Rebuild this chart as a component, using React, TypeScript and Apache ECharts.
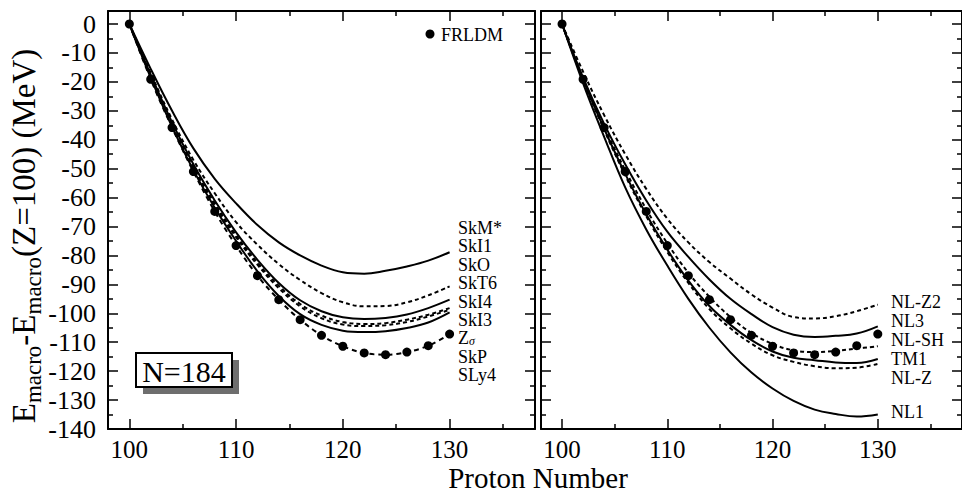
import React, { useEffect, useRef } from 'react';
import * as echarts from 'echarts';

// ---------- data ----------
const protonNumbers = [100, 102, 104, 106, 108, 110, 112, 114, 116, 118, 120, 122, 124, 126, 128, 130];

const frldm = [0, -19.1, -35.8, -51.0, -64.8, -76.6, -87.0, -95.3, -102.2, -107.6, -111.4, -113.7, -114.3, -113.4, -111.2, -107.2];

// left panel (Skyrme)
const skmStar = [0, -15.5, -30.0, -43.0, -53.5, -62.0, -69.5, -75.5, -80.0, -83.5, -85.8, -86.3, -85.3, -83.8, -81.8, -78.9];
const skI1 = [0, -17.0, -33.0, -47.0, -58.5, -68.5, -76.3, -83.0, -88.5, -93.0, -96.2, -97.6, -97.5, -96.2, -93.8, -90.7];
const skO = [0, -17.5, -34.0, -48.5, -61.0, -72.0, -81.5, -89.5, -95.5, -99.3, -101.4, -102.0, -101.6, -100.4, -98.2, -95.3];
const skT6 = [0, -17.8, -34.5, -49.3, -62.0, -73.0, -82.5, -90.5, -96.8, -100.8, -103.0, -103.7, -103.4, -102.2, -100.5, -98.2];
const skI4 = [0, -18.0, -35.0, -49.8, -62.6, -73.7, -83.2, -91.3, -97.6, -101.7, -103.9, -104.4, -104.1, -103.0, -101.1, -98.8];
const skI3 = [0, -18.5, -35.5, -50.5, -63.5, -75.0, -85.5, -94.0, -100.3, -104.0, -106.0, -106.5, -106.2, -105.1, -103.2, -99.7];

// right panel (RMF)
const nlZ2 = [0, -16.5, -31.5, -45.0, -57.0, -67.3, -75.5, -82.3, -88.0, -93.5, -98.0, -101.3, -101.8, -101.0, -99.3, -97.0];
const nl3 = [0, -18.5, -34.5, -48.5, -61.0, -71.8, -80.5, -88.3, -95.0, -100.3, -104.8, -107.4, -108.2, -107.8, -107.0, -104.5];
const nlSH = [0, -19.0, -35.5, -50.5, -64.0, -75.8, -86.0, -94.3, -101.3, -106.8, -110.6, -112.8, -113.4, -113.0, -112.2, -111.4];
const tm1 = [0, -19.2, -36.2, -51.8, -65.8, -78.0, -88.7, -97.5, -104.0, -109.3, -113.2, -115.4, -116.2, -117.0, -117.2, -115.8];
const nlZ = [0, -19.4, -36.6, -52.3, -66.4, -78.8, -89.5, -98.5, -105.2, -110.5, -114.5, -116.8, -118.3, -119.0, -118.8, -117.5];
const nl1 = [0, -20.5, -39.0, -56.5, -71.0, -83.5, -95.0, -105.0, -113.5, -120.5, -126.0, -130.3, -133.3, -134.8, -135.7, -135.0];

const xMajorTicks = [100, 110, 120, 130];
const xMinorTicks = [105, 115, 125, 135];
const yMajorTicks = [-140, -130, -120, -110, -100, -90, -80, -70, -60, -50, -40, -30, -20, -10, 0];
const yMinorTicks = [-135, -125, -115, -105, -95, -85, -75, -65, -55, -45, -35, -25, -15, -5];

const leftLabels = ['SkM*', 'SkI1', 'SkO', 'SkT6', 'SkI4', 'SkI3', 'Zσ', 'SkP', 'SLy4'];
const rightLabels = ['NL-Z2', 'NL3', 'NL-SH', 'TM1', 'NL-Z', 'NL1'];

// ---------- layout ----------
const FONT = '"Liberation Serif", "Times New Roman", serif';
const X_MIN = 98;
const X_MAX = 138;
const Y_MIN = -140;
const Y_MAX = 4.5;
const rightLabelY = [302, 321, 340, 359, 378, 412];

const zip = (ys: number[]) => protonNumbers.map((z, i) => [z, ys[i]]);

function makeX(gridIndex: number, position: 'bottom' | 'top', major: boolean) {
  return {
    type: 'value',
    gridIndex,
    position,
    min: X_MIN,
    max: X_MAX,
    axisLine: { show: major, onZero: false, lineStyle: { color: '#000', width: 2 } },
    axisTick: {
      show: true,
      inside: true,
      length: major ? 10 : 5,
      customValues: major ? xMajorTicks : xMinorTicks,
      lineStyle: { color: '#000', width: 1.5 },
    },
    axisLabel: {
      show: major && position === 'bottom',
      customValues: xMajorTicks,
      color: '#000',
      fontFamily: FONT,
      fontSize: 25,
      lineHeight: 20,
      margin: 10,
    },
    splitLine: { show: false },
  };
}

function makeY(gridIndex: number, position: 'left' | 'right', major: boolean, labels: boolean) {
  return {
    type: 'value',
    gridIndex,
    position,
    min: Y_MIN,
    max: Y_MAX,
    axisLine: { show: major, onZero: false, lineStyle: { color: '#000', width: 2 } },
    axisTick: {
      show: true,
      inside: true,
      length: major ? 10 : 5,
      customValues: major ? yMajorTicks : yMinorTicks,
      lineStyle: { color: '#000', width: 1.5 },
    },
    axisLabel: {
      show: labels,
      customValues: yMajorTicks,
      color: '#000',
      fontFamily: FONT,
      fontSize: 26,
      margin: 12,
    },
    splitLine: { show: false },
  };
}

function lineSeries(name: string, ys: number[], dashed: boolean, panel: number) {
  return {
    name,
    type: 'line',
    xAxisIndex: panel * 2,
    yAxisIndex: panel * 2,
    data: zip(ys),
    smooth: 0.4,
    symbol: 'none',
    silent: true,
    lineStyle: { color: '#000', width: 2, type: dashed ? [4, 3] : 'solid' },
  };
}

export default function App() {
  const ref = useRef<HTMLDivElement>(null);

  useEffect(() => {
    document.body.style.margin = '0';
    if (!ref.current) return;
    const chart = echarts.init(ref.current, undefined, { renderer: 'svg' });

    const grids = [
      { left: 108, top: 11, width: 427, height: 418 },
      { left: 541, top: 11, width: 428, height: 418 },
      { left: 108, top: 11, width: 427, height: 418 },
      { left: 541, top: 11, width: 428, height: 418 },
    ];

    const xAxes = [
      makeX(0, 'bottom', true), makeX(0, 'top', true),
      makeX(1, 'bottom', true), makeX(1, 'top', true),
      makeX(2, 'bottom', false), makeX(2, 'top', false),
      makeX(3, 'bottom', false), makeX(3, 'top', false),
    ];
    const yAxes = [
      makeY(0, 'left', true, true), makeY(0, 'right', true, false),
      makeY(1, 'left', true, false), makeY(1, 'right', true, false),
      makeY(2, 'left', false, false), makeY(2, 'right', false, false),
      makeY(3, 'left', false, false), makeY(3, 'right', false, false),
    ];

    const series: any[] = [
      lineSeries('SkM*', skmStar, false, 0),
      lineSeries('SkI1', skI1, true, 0),
      lineSeries('SkO', skO, false, 0),
      lineSeries('SkT6', skT6, true, 0),
      lineSeries('SkI4', skI4, true, 0),
      lineSeries('SkI3', skI3, false, 0),
      {
        name: 'FRLDM',
        type: 'line',
        xAxisIndex: 0,
        yAxisIndex: 0,
        data: zip(frldm),
        smooth: 0.4,
        symbol: 'circle',
        symbolSize: 9,
        itemStyle: { color: '#000', opacity: 1 },
        lineStyle: { color: '#000', width: 2, type: [5, 4] },
      },
      lineSeries('NL-Z2', nlZ2, true, 1),
      lineSeries('NL3', nl3, false, 1),
      lineSeries('NL-SH', nlSH, true, 1),
      lineSeries('TM1', tm1, false, 1),
      lineSeries('NL-Z', nlZ, true, 1),
      lineSeries('NL1', nl1, false, 1),
      {
        name: 'FRLDM ',
        type: 'scatter',
        xAxisIndex: 2,
        yAxisIndex: 2,
        data: zip(frldm),
        symbol: 'circle',
        symbolSize: 9,
        itemStyle: { color: '#000', opacity: 1 },
      },
    ];

    const labelStyle = {
      fill: '#000',
      fontFamily: FONT,
      fontSize: 18,
      lineHeight: 17,
      align: 'left',
      verticalAlign: 'middle',
    };

    const graphics: any[] = [
      // y title
      {
        type: 'text',
        x: 24,
        y: 236,
        rotation: Math.PI / 2,
        style: {
          text: '{b|E}{s|macro}{b|-E}{s|macro}{b|(Z=100) (MeV)}',
          fill: '#000',
          fontFamily: FONT,
          fontSize: 33,
          align: 'center',
          verticalAlign: 'middle',
          rich: {
            b: { fontFamily: FONT, fontSize: 33, fill: '#000' },
            s: { fontFamily: FONT, fontSize: 23, fill: '#000', padding: [18, 0, 0, 0] },
          },
        },
      },
      // x title
      {
        type: 'text',
        x: 538,
        y: 478,
        style: {
          text: 'Proton Number',
          fill: '#000',
          fontFamily: FONT,
          fontSize: 29,
          lineHeight: 26,
          align: 'center',
          verticalAlign: 'middle',
        },
      },
      // N=184 box
      { type: 'rect', shape: { x: 143, y: 360, width: 96, height: 34 }, style: { fill: '#6e6e6e' } },
      { type: 'rect', shape: { x: 136, y: 353, width: 96, height: 34 }, style: { fill: '#fff', stroke: '#000', lineWidth: 2 } },
      {
        type: 'text',
        x: 184,
        y: 371,
        style: { text: 'N=184', fill: '#000', fontFamily: FONT, fontSize: 30, align: 'center', verticalAlign: 'middle' },
      },
      // FRLDM key
      { type: 'circle', shape: { cx: 430, cy: 34, r: 4.5 }, style: { fill: '#000' } },
      { type: 'text', x: 441, y: 35, style: { ...labelStyle, text: 'FRLDM' } },
    ];

    leftLabels.forEach((t, i) => {
      const y = 228 + i * 18.4;
      if (t === 'Zσ') {
        graphics.push({
          type: 'text',
          x: 458,
          y,
          style: {
            ...labelStyle,
            text: '{m|Z}{s|σ}',
            rich: {
              m: { fontFamily: FONT, fontSize: 18, fill: '#000' },
              s: { fontFamily: FONT, fontSize: 12, fontStyle: 'italic', fill: '#000', padding: [6, 0, 0, 0] },
            },
          },
        });
      } else {
        graphics.push({ type: 'text', x: 458, y, style: { ...labelStyle, text: t } });
      }
    });

    rightLabels.forEach((t, i) => {
      graphics.push({ type: 'text', x: 891, y: rightLabelY[i], style: { ...labelStyle, text: t } });
    });

    chart.setOption({
      animation: false,
      backgroundColor: '#fff',
      grid: grids,
      xAxis: xAxes,
      yAxis: yAxes,
      series,
      graphic: graphics,
    });

    return () => chart.dispose();
  }, []);

  return <div ref={ref} style={{ width: 962, height: 493 }} />;
}
